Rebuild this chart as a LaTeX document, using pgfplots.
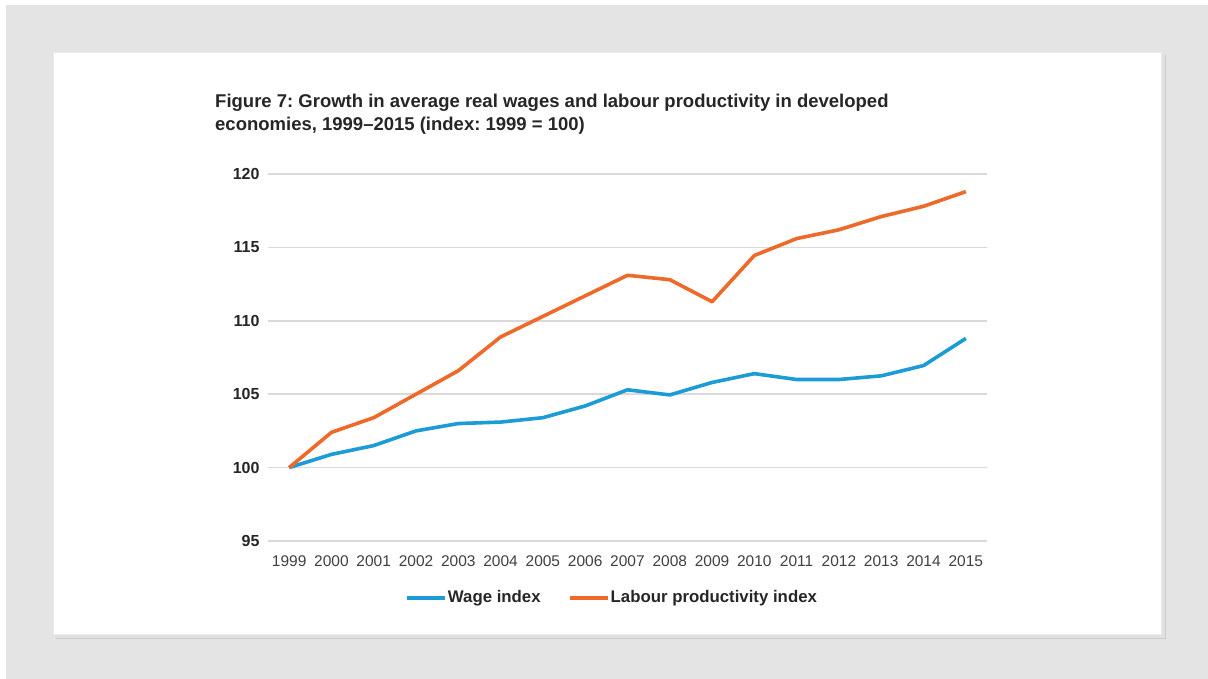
\documentclass[border=0pt]{standalone}
\usepackage{fontspec}
\setmainfont{Liberation Sans}
\usepackage{pgfplots}
\pgfplotsset{compat=1.18}
\frenchspacing
\definecolor{wageblue}{RGB}{29,155,215}
\definecolor{prodorange}{RGB}{237,106,42}
\definecolor{bggray}{RGB}{228,228,228}
\definecolor{gridgray}{RGB}{217,217,217}
\definecolor{txt}{RGB}{38,38,38}
\definecolor{ticktxt}{RGB}{64,64,64}
\begin{document}
\begin{tikzpicture}[x=1pt,y=1pt]
\path[use as bounding box] (0,0) rectangle (1208,679);
\fill[white] (0,0) rectangle (1208,679);
\fill[bggray] (6,0) rectangle (1208,674);
% card shadow
\fill[black!20] (56,40) rectangle (1166,624);
\fill[black!12] (55,41) rectangle (1165,625);
\fill[white] (53,44) rectangle (1162,627);
\draw[black!8, line width=0.8pt] (53.4,44.4) rectangle (1161.6,626.6);
% title
\node[anchor=base west, inner sep=0pt, text=txt, font=\fontsize{18.5}{22}\selectfont\bfseries] at (215,679-108) {Figure 7: Growth in average real wages and labour productivity in developed};
\node[anchor=base west, inner sep=0pt, text=txt, font=\fontsize{18.5}{22}\selectfont\bfseries] at (215,679-131) {economies, 1999--2015 (index: 1999 = 100)};
\begin{axis}[
  at={(268pt,138pt)}, anchor=south west,
  width=719pt, height=367pt, scale only axis,
  xmin=1998.5, xmax=2015.5, ymin=95, ymax=120,
  xtick={1999,...,2015}, ytick={95,100,...,120},
  /pgf/number format/.cd, 1000 sep={}, assume math mode=true, /pgfplots/.cd,
  axis line style={draw=none}, major tick style={draw=none},
  ymajorgrids, grid style={gridgray, line width=1.6pt},
  yticklabel style={font=\fontsize{16}{18}\selectfont\bfseries, text=txt, xshift=-5pt},
  xticklabel style={font=\fontsize{15.5}{18}\selectfont, text=ticktxt, yshift=-11pt},
  legend columns=2,
  legend style={draw=none, fill=none, at={(0.186,-0.154)}, anchor=west,
    font=\fontsize{16.8}{19}\selectfont\bfseries, text=txt,
    /tikz/every even column/.append style={column sep=26pt},
    nodes={inner sep=1pt}},
  legend image code/.code={\draw[#1, line width=4pt] (0pt,0pt) -- (38pt,0pt);},
  clip=false,
]
\addplot[wageblue, line width=3.6pt, line join=round] coordinates {
(1999,100) (2000,100.9) (2001,101.5) (2002,102.5) (2003,103.0) (2004,103.1)
(2005,103.4) (2006,104.2) (2007,105.3) (2008,104.95) (2009,105.8) (2010,106.4)
(2011,106.0) (2012,106.0) (2013,106.25) (2014,106.95) (2015,108.8)};
\addlegendentry{Wage index}
\addplot[prodorange, line width=3.6pt, line join=round] coordinates {
(1999,100) (2000,102.4) (2001,103.4) (2002,105.0) (2003,106.6) (2004,108.9)
(2005,110.3) (2006,111.7) (2007,113.1) (2008,112.8) (2009,111.3) (2010,114.45)
(2011,115.6) (2012,116.2) (2013,117.1) (2014,117.8) (2015,118.8)};
\addlegendentry{Labour productivity index}
\end{axis}
\end{tikzpicture}
\end{document}
